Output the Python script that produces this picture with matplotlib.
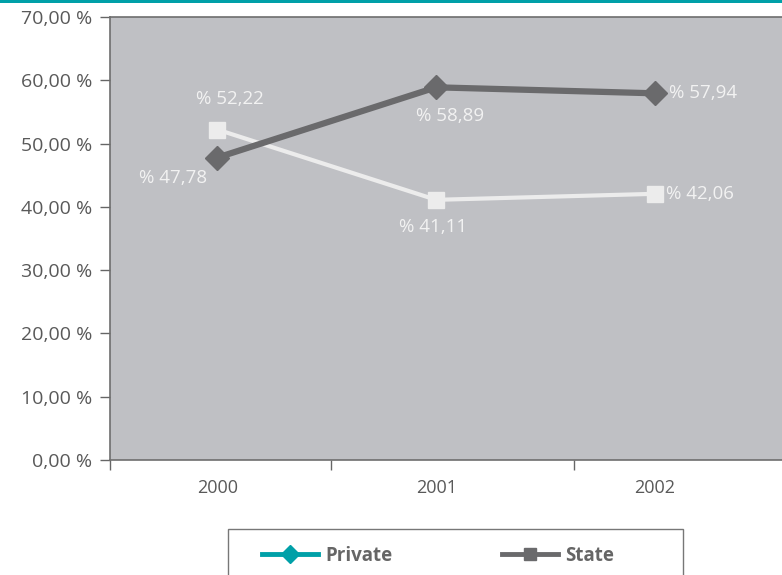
import matplotlib
matplotlib.use('Agg')
import matplotlib.pyplot as plt
from matplotlib.lines import Line2D
from matplotlib.patches import Rectangle

years = ['2000', '2001', '2002']
state = [47.78, 58.89, 57.94]
private = [52.22, 41.11, 42.06]
y_ticks = [0, 10, 20, 30, 40, 50, 60, 70]

plt.rcParams['font.family'] = ['Open Sans', 'DejaVu Sans']

fig = plt.figure(figsize=(7.82, 5.75), dpi=100)
ax = fig.add_axes([110/782, 1-460/575, 1-110/782, (460-17)/575])
ax.set_facecolor('#bfc0c4')

x = list(range(len(years)))
ax.plot(x, private, color='#ececec', lw=3, marker='s', ms=12, zorder=3)
ax.plot(x, state, color='#6a6a6c', lw=4.5, marker='D', ms=12, zorder=4)

lab = dict(color='#f2f2f2', fontsize=13.5, ha='center', va='center',
           textcoords='offset points')
def fmt(v):
    return '% ' + ('%.2f' % v).replace('.', ',')

ax.annotate(fmt(private[0]), (0, private[0]), xytext=(9, 22), **lab)
ax.annotate(fmt(state[0]), (0, state[0]), xytext=(-32, -15), **lab)
ax.annotate(fmt(state[1]), (1, state[1]), xytext=(10, -21), **lab)
ax.annotate(fmt(private[1]), (1, private[1]), xytext=(-2, -19.5), **lab)
lab['ha'] = 'left'
ax.annotate(fmt(state[2]), (2, state[2]), xytext=(10, 0), **lab)
ax.annotate(fmt(private[2]), (2, private[2]), xytext=(8, 0), **lab)

ax.set_xlim(-0.49, 2.58)
ax.set_ylim(0, 70)
ax.set_yticks(y_ticks)
ax.set_yticklabels([('%.2f' % v).replace('.', ',') + ' %' for v in y_ticks])
ax.set_xticks(x)
ax.set_xticklabels(years)
ax.tick_params(axis='x', length=0, pad=14, labelsize=13, labelcolor='#595959')
ax.tick_params(axis='y', length=7, width=1, color='#666666', pad=6, labelsize=14, labelcolor='#595959')
ax.set_xticks([-0.49, 0.52, 1.63], minor=True)
ax.tick_params(axis='x', which='minor', length=7, width=1, color='#666666', direction='out')

for s in ['left', 'bottom', 'top']:
    ax.spines[s].set_color('#6e6e6e')
    ax.spines[s].set_linewidth(1.2)
ax.spines['right'].set_visible(False)

# teal line at the very top
fig.add_artist(Rectangle((0, 1-3/575), 1, 3/575, transform=fig.transFigure,
                         color='#00a0a8', lw=0))

# legend box
fig.add_artist(Rectangle((228/782, -0.05), 455/782, (575-529)/575+0.05,
                         transform=fig.transFigure, fill=False, ec='#777777', lw=1))
handles = [Line2D([], [], color='#00a0a8', lw=3.5, marker='D', ms=9),
           Line2D([], [], color='#6a6a6c', lw=3.5, marker='s', ms=9)]
fig.legend(handles, ['Private', 'State'], loc='center', bbox_to_anchor=(438/782, 1-556/575),
           ncol=2, frameon=False, handlelength=3.0, handletextpad=0.4, columnspacing=5.8,
           prop={'family': ['Open Sans', 'DejaVu Sans'], 'size': 13.5, 'weight': 'bold'},
           labelcolor='#666666')

plt.savefig('out.png', dpi=100)
